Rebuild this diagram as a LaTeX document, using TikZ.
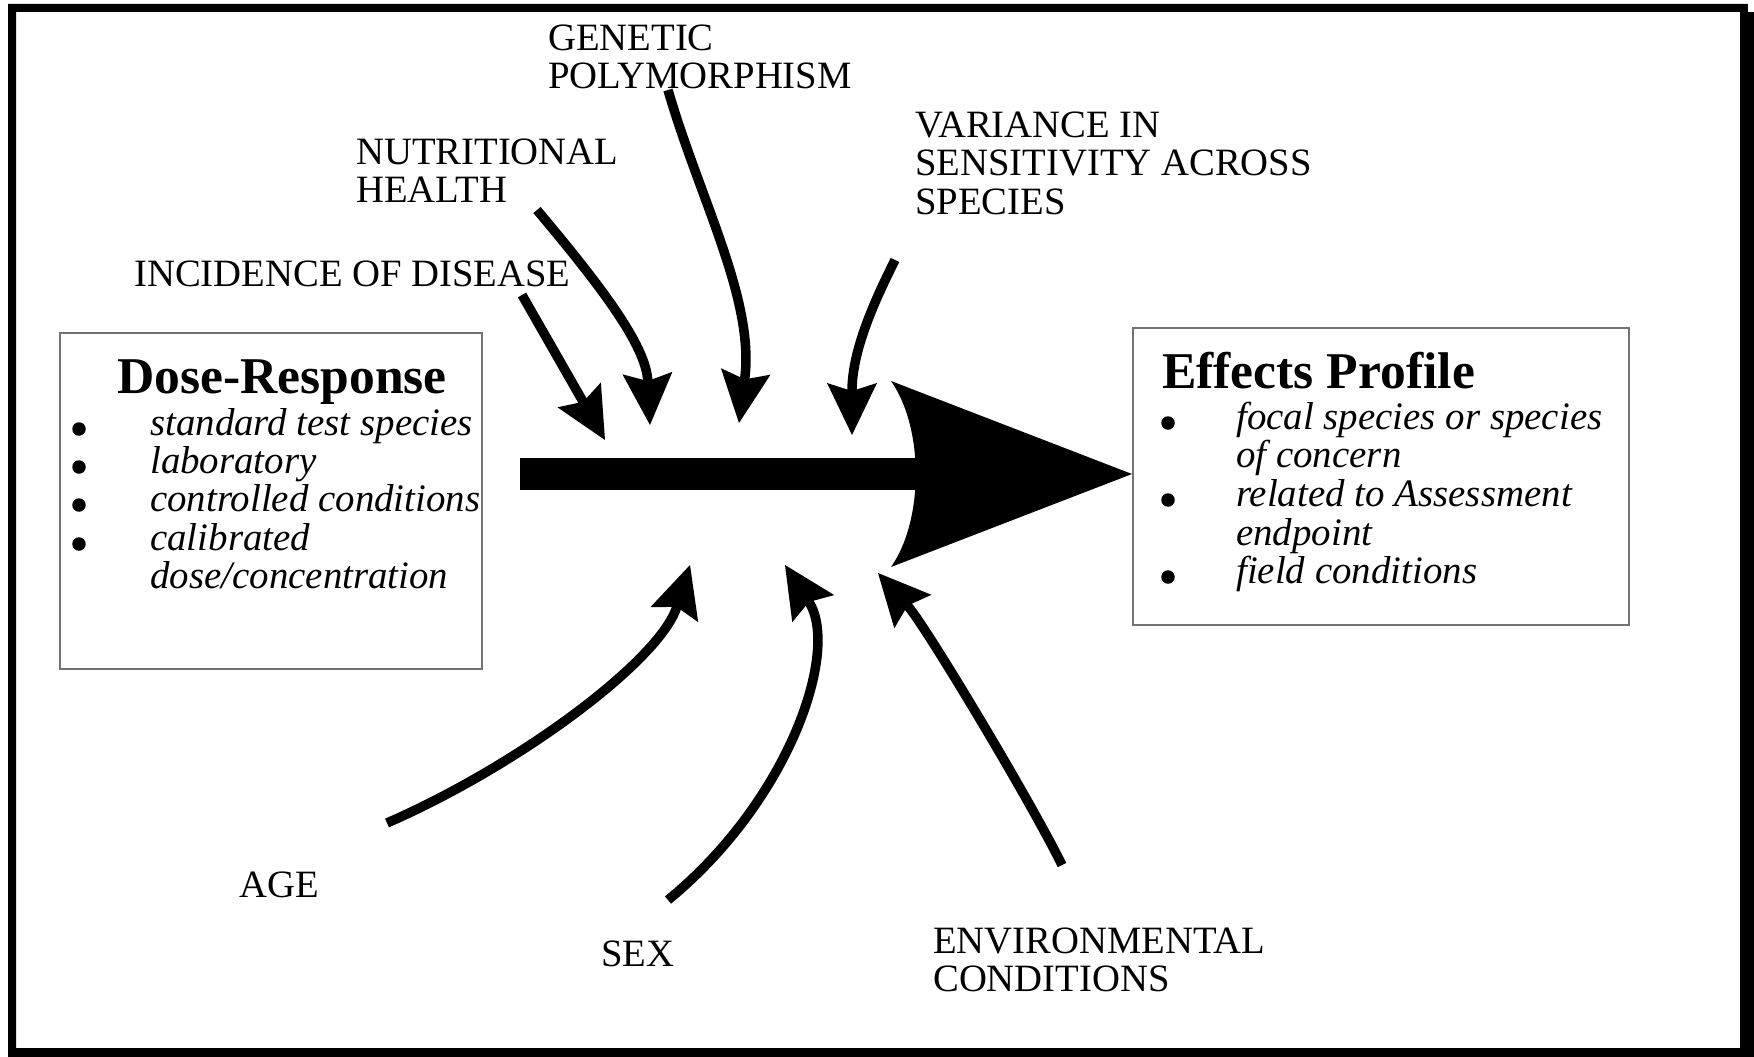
\documentclass[tikz,border=0pt]{standalone}
\usepackage{fontspec}
\setmainfont{Liberation Serif}
\usetikzlibrary{arrows.meta}
\begin{document}
\begin{tikzpicture}[x=1pt,y=-1pt,
  lbl/.style={anchor=north west, inner sep=0pt, align=left,
              font=\fontsize{38.7}{38.5}\selectfont},
  ttl/.style={anchor=base west, inner sep=0pt,
              font=\fontsize{51.6}{55}\selectfont\bfseries},
  itm/.style={anchor=base west, inner sep=0pt,
              font=\fontsize{38.9}{38.5}\selectfont\itshape},
  panel/.style={draw=black!55, line width=1.5pt, inner sep=0pt},
  dot/.style={circle, fill=black, inner sep=0pt, minimum size=13.5pt},
  factor/.style={line width=9.5pt,
     -{Stealth[length=52pt, width=50pt, inset=8pt, line width=0pt]}}
]
\useasboundingbox (0,0) rectangle (1754,1057);

% outer frame
\fill[black, even odd rule] (8,4) rectangle (1754,1057)
                            (16,12) rectangle (1740,1048);
\fill[white] (1748,0) rectangle (1754,12);

% the two panels
\node[panel, minimum width=422pt, minimum height=336pt] (dose) at (271,501) {};
\node[panel, minimum width=496pt, minimum height=297pt] (eff) at (1381,476.5) {};

% Dose-Response panel text
\node[ttl] (doset) at (117,393) {Dose-Response};
\node[dot] (db1) at (79,429) {};
\node[dot] (db2) at (79,467) {};
\node[dot] (db3) at (79,505) {};
\node[dot] (db4) at (79,544) {};
\node[itm] (di1) at (150,435) {standard test species};
\node[itm] (di2) at (150,473) {laboratory};
\node[itm] (di3) at (150,511) {controlled conditions};
\node[itm] (di4) at (150,550) {calibrated};
\node[itm] (di5) at (150,588) {dose/concentration};

% Effects Profile panel text
\node[ttl] (efft) at (1162,388) {Effects Profile};
\node[dot] (eb1) at (1168,423) {};
\node[dot] (eb2) at (1168,500) {};
\node[dot] (eb3) at (1168,577) {};
\node[itm] (ei1) at (1236,429) {focal species or species};
\node[itm] (ei2) at (1236,467) {of concern};
\node[itm] (ei3) at (1236,506) {related to Assessment};
\node[itm] (ei4) at (1236,545) {endpoint};
\node[itm] (ei5) at (1236,583) {field conditions};

% main arrow from dose-response to effects profile
\coordinate (tip) at (1132,474);
\fill (520,458) rectangle (930,490);
\fill (891,381) -- (tip) -- (891,567)
      .. controls (924,520) and (924,428) .. (891,381) -- cycle;

% factor labels
\node[lbl] (genetic) at (548,24.4) {GENETIC\\POLYMORPHISM};
\node[lbl] (nutri) at (356,138.4) {NUTRITIONAL\\HEALTH};
\node[lbl] (disease) at (134,260.4) {INCIDENCE OF DISEASE};
\node[lbl] (variance) at (915,111.4) {VARIANCE IN\\SENSITIVITY ACROSS\\SPECIES};
\node[lbl] (age) at (239,871.4) {AGE};
\node[lbl] (sex) at (601,940.4) {SEX};
\node[lbl] (env) at (933,927.4) {ENVIRONMENTAL\\CONDITIONS};

% factor arrows: tails and tips
\coordinate (disT) at (522,295);  \coordinate (disH) at (605,440);
\coordinate (nutT) at (537,210);  \coordinate (nutH) at (650,425);
\coordinate (genT) at (668,90);   \coordinate (genH) at (739,423);
\coordinate (varT) at (895,260);  \coordinate (varH) at (852,435);
\coordinate (ageT) at (387,823);  \coordinate (ageH) at (690,565);
\coordinate (sexT) at (668,900);  \coordinate (sexH) at (785,565);
\coordinate (envT) at (1062,865); \coordinate (envH) at (878,573);

\draw[factor] (disT) -- (disH);
\draw[factor] (nutT) .. controls (600,285) and (646,345) .. (nutH);
\draw[factor] (genT) .. controls (700,200) and (755,300) .. (genH);
\draw[factor] (varT) .. controls (875,300) and (852,350) .. (varH);
\draw[factor] (ageT) .. controls (520,765) and (660,660) .. (ageH);
\draw[factor] (sexT) .. controls (790,800) and (840,650) .. (sexH);
\draw[factor] (envT) .. controls (1030,800) and (925,625) .. (envH);
\end{tikzpicture}
\end{document}
